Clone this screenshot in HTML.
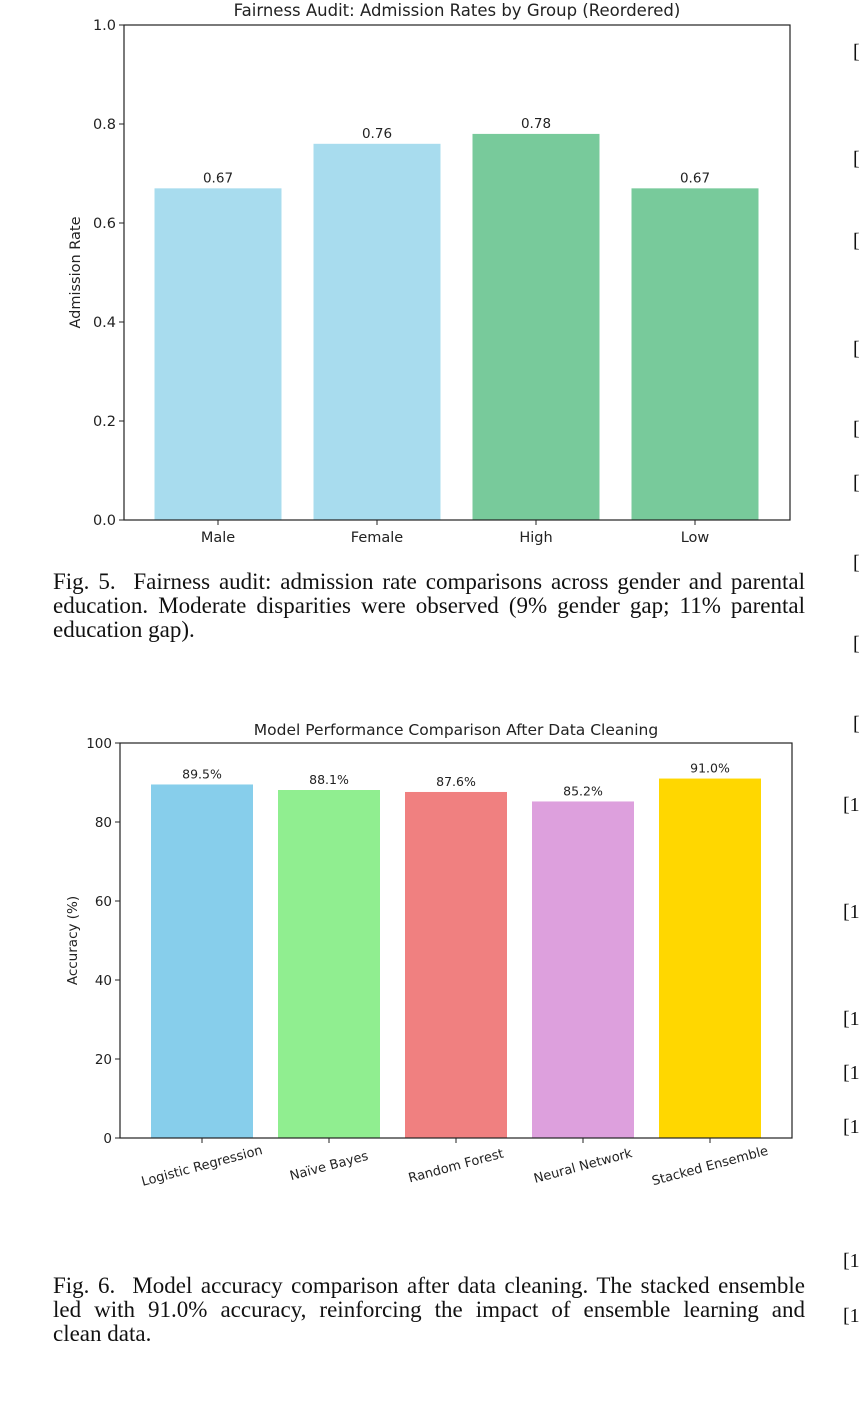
<!DOCTYPE html>
<html><head><meta charset="utf-8">
<style>
html,body{margin:0;padding:0;background:#fff;}
body{width:859px;height:1411px;position:relative;overflow:hidden;}
svg{position:absolute;left:0;top:0;}
.cap{position:absolute;left:53px;width:752px;font-family:"Liberation Serif",serif;font-size:23px;line-height:24px;color:#111;}
.cap .j{display:block;white-space:nowrap;text-align:justify;text-align-last:justify;}
.cap .l{display:block;white-space:nowrap;}
.ref{position:absolute;font-family:"Liberation Serif",serif;font-size:20px;color:#111;}
</style></head>
<body>
<svg id="chart" width="859" height="1411" font-family="'DejaVu Sans','Liberation Sans',sans-serif"></svg>
<div class="cap" style="top:570px"><span class="j">Fig. 5.&nbsp; Fairness audit: admission rate comparisons across gender and parental</span><span class="j">education. Moderate disparities were observed (9% gender gap; 11% parental</span><span class="l">education gap).</span></div>
<div class="cap" style="top:1274px"><span class="j">Fig. 6.&nbsp; Model accuracy comparison after data cleaning. The stacked ensemble</span><span class="j">led with 91.0% accuracy, reinforcing the impact of ensemble learning and</span><span class="l">clean data.</span></div>
<div class="ref" style="left:853px;top:41px">[</div>
<div class="ref" style="left:853px;top:148px">[</div>
<div class="ref" style="left:853px;top:230px">[</div>
<div class="ref" style="left:853px;top:338px">[</div>
<div class="ref" style="left:853px;top:418px">[</div>
<div class="ref" style="left:853px;top:472px">[</div>
<div class="ref" style="left:853px;top:552px">[</div>
<div class="ref" style="left:853px;top:633px">[</div>
<div class="ref" style="left:853px;top:713px">[</div>
<div class="ref" style="left:843px;top:794px">[1</div>
<div class="ref" style="left:843px;top:901px">[1</div>
<div class="ref" style="left:843px;top:1008px">[1</div>
<div class="ref" style="left:843px;top:1062px">[1</div>
<div class="ref" style="left:843px;top:1116px">[1</div>
<div class="ref" style="left:843px;top:1250px">[1</div>
<div class="ref" style="left:843px;top:1305px">[1</div>
<script>
const NS='http://www.w3.org/2000/svg';
const svg=document.getElementById('chart');
// Chart 1 data
const groups=['Male','Female','High','Low'];
const rates=[0.67,0.76,0.78,0.67];
const rateLabels=['0.67','0.76','0.78','0.67'];
const rateColors=['#a8dcee','#a8dcee','#78ca9b','#78ca9b'];
const rateTicks=[0,0.2,0.4,0.6,0.8,1.0];
// Chart 2 data
const models=['Logistic Regression','Naïve Bayes','Random Forest','Neural Network','Stacked Ensemble'];
const accuracy=[89.5,88.1,87.6,85.2,91.0];
const accLabels=['89.5%','88.1%','87.6%','85.2%','91.0%'];
const accColors=['#87ceeb','#90ee90','#f08080','#dda0dd','#ffd700'];
const accTicks=[0,20,40,60,80,100];

function mk(tag,attrs,text){const e=document.createElementNS(NS,tag);for(const k in attrs)e.setAttribute(k,attrs[k]);if(text!==undefined)e.textContent=text;svg.appendChild(e);return e;}

function drawChart(o){
  const {L,R,T,B,max,cats,vals,labels,colors,ticks,tickFmt,title,titleY,ylab,ylabX,prefix,fs,rot,barW}=o;
  const y=v=>B-(v/max)*(B-T);
  const x0=L+(R-L)*(o.firstFrac), xs=(R-L)*o.stepFrac;
  const cx=i=>x0+i*xs;
  let e;
  vals.forEach((v,i)=>{
    e=mk('rect',{x:cx(i)-barW/2,y:y(v),width:barW,height:B-y(v),fill:colors[i]});
    
    
    e=mk('text',{x:cx(i),y:y(v)-6,'text-anchor':'middle','font-size':fs,fill:'#222'},labels[i]);
    
    
    e=mk('line',{x1:cx(i),x2:cx(i),y1:B,y2:B+5,stroke:'#222','stroke-width':1});
    
    
    if(rot){
      e=mk('text',{x:cx(i),y:B+32,'text-anchor':'middle','font-size':fs+0.5,fill:'#222',transform:`rotate(-15 ${cx(i)} ${B+28})`},cats[i]);
    } else {
      e=mk('text',{x:cx(i),y:B+22,'text-anchor':'middle','font-size':fs+1,fill:'#222'},cats[i]);
    }
    
    
  });
  ticks.forEach(t=>{
    e=mk('line',{x1:L-5,x2:L,y1:y(t),y2:y(t),stroke:'#222','stroke-width':1});
    
    
    e=mk('text',{x:L-8,y:y(t)+5,'text-anchor':'end','font-size':fs+1,fill:'#222'},tickFmt(t));
    
    
  });
  e=mk('rect',{x:L,y:T,width:R-L,height:B-T,fill:'none',stroke:'#222','stroke-width':1.2});
  
  
  e=mk('text',{x:(L+R)/2,y:titleY,'text-anchor':'middle','font-size':fs+3,fill:'#222'},title);
  
  
  const my=(T+B)/2;
  e=mk('text',{x:ylabX,y:my,'text-anchor':'middle','font-size':fs+1,fill:'#222',transform:`rotate(-90 ${ylabX} ${my})`},ylab);
  
  
}
drawChart({L:124,R:790,T:25,B:520,max:1.0,cats:groups,vals:rates,labels:rateLabels,colors:rateColors,ticks:rateTicks,
  tickFmt:t=>t.toFixed(1),title:'Fairness Audit: Admission Rates by Group (Reordered)',titleY:16,ylab:'Admission Rate',ylabX:80,
  prefix:'fairness',fs:13.5,rot:false,barW:127,firstFrac:(218-124)/666,stepFrac:159/666});
drawChart({L:120,R:792,T:743,B:1138,max:100,cats:models,vals:accuracy,labels:accLabels,colors:accColors,ticks:accTicks,
  tickFmt:t=>String(t),title:'Model Performance Comparison After Data Cleaning',titleY:735,ylab:'Accuracy (%)',ylabX:77,
  prefix:'accuracy',fs:12.5,rot:true,barW:102,firstFrac:(202-120)/672,stepFrac:127/672});
</script>
</body></html>
